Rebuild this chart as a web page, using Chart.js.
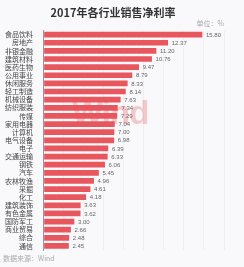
<!DOCTYPE html>
<html><head><meta charset="utf-8">
<script src="https://cdn.jsdelivr.net/npm/chart.js@4/dist/chart.umd.min.js"></script>
<style>
html,body{margin:0;padding:0;background:#f9f9fb;}
#wrap{position:relative;width:244px;height:267px;}
canvas{position:absolute;left:0;top:0;}
#src{position:absolute;left:3px;top:253px;font:7px "Noto Sans CJK SC",sans-serif;color:#aaa;}
#wm{position:absolute;left:72px;top:94px;font:bold 33px "Liberation Sans",sans-serif;color:rgba(232,84,90,0.3);letter-spacing:-1px;}
</style></head><body>
<div id="wrap"><canvas id="c" width="244" height="267"></canvas><div id="wm">Wind</div><div id="src">数据来源：Wind</div></div>
<script>
const categories=["食品饮料","房地产","非银金融","建筑材料","医药生物","公用事业","休闲服务","轻工制造","机械设备","纺织服装","传媒","家用电器","计算机","电气设备","电子","交通运输","钢铁","汽车","农林牧渔","采掘","化工","建筑装饰","有色金属","国防军工","商业贸易","综合","通信"];
const values=[15.80,12.37,11.20,10.76,9.47,8.79,8.33,8.14,7.63,7.34,7.29,7.04,7.00,6.98,6.39,6.33,6.06,5.45,4.96,4.61,4.18,3.63,3.62,3.00,2.66,2.48,2.45];
const titleText="2017年各行业销售净利率";
const unitText="单位：%";
const labelPlugin={id:'lbl',afterDatasetsDraw(chart){const ctx=chart.ctx;const meta=chart.getDatasetMeta(0);ctx.save();ctx.font='6px "Liberation Sans",sans-serif';ctx.fillStyle='#666';ctx.textBaseline='middle';meta.data.forEach((b,i)=>{ctx.fillText(values[i].toFixed(2),b.x+4,b.y+0.5);});ctx.restore();}};
new Chart(document.getElementById('c'),{type:'bar',data:{labels:categories,datasets:[{data:values,backgroundColor:'#e9575e',barThickness:5,borderWidth:0}]},
options:{indexAxis:'y',responsive:false,animation:false,devicePixelRatio:1,
layout:{padding:{left:2,right:20,top:0,bottom:17}},
plugins:{legend:{display:false},tooltip:{enabled:false},
title:{display:true,text:titleText,font:{size:11,weight:'bold',family:'"Noto Sans CJK SC"'},color:'#333',padding:{top:6,bottom:0}},
subtitle:{display:true,text:unitText,align:'end',font:{size:7,family:'"Noto Sans CJK SC"'},color:'#aaa',padding:{top:0,bottom:3}}},
scales:{x:{min:0,max:18,ticks:{display:false,stepSize:2},grid:{color:'rgba(0,0,0,0.04)',drawTicks:false},border:{display:false}},
y:{ticks:{font:{size:7,family:'"Noto Sans CJK SC"'},color:'#444',padding:3,autoSkip:false},grid:{display:false,drawTicks:true},border:{display:true,color:'#999'}}}},
plugins:[labelPlugin]});
</script></body></html>
